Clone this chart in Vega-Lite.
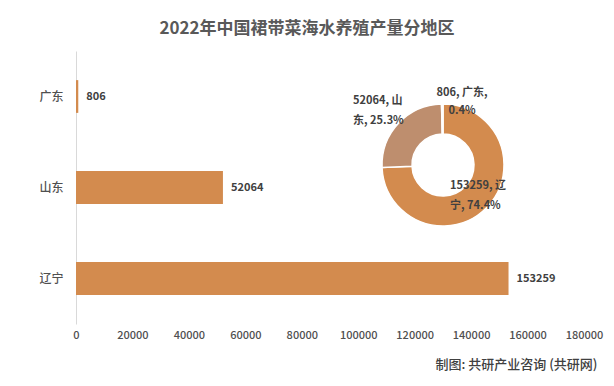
{
  "$schema": "https://vega.github.io/schema/vega-lite/v6.json",
  "width": 508,
  "height": 273,
  "autosize": {"type": "none"},
  "padding": {"left": 76, "top": 51, "right": 30, "bottom": 62},
  "background": "white",
  "config": {"font": "Noto Sans CJK SC", "view": {"stroke": null}},
  "title": {
    "text": "2022年中国裙带菜海水养殖产量分地区",
    "fontSize": 17,
    "fontWeight": "bold",
    "color": "#595959",
    "anchor": "middle",
    "dx": -23,
    "offset": 13
  },
  "data": {
    "values": [
      {"region": "辽宁", "value": 153259, "pieLabel": "153259, 辽\n宁, 74.4%"},
      {"region": "山东", "value": 52064, "pieLabel": "52064, 山\n东, 25.3%"},
      {"region": "广东", "value": 806, "pieLabel": "806, 广东,\n0.4%"}
    ]
  },
  "layer": [
    {
      "mark": {"type": "bar", "color": "#D38B4E"},
      "encoding": {
        "y": {
          "field": "region",
          "type": "nominal",
          "sort": ["广东", "山东", "辽宁"],
          "scale": {"paddingInner": 0.64, "paddingOuter": 0.32},
          "axis": {
            "title": null,
            "ticks": false,
            "grid": false,
            "labelFontSize": 12,
            "labelFontWeight": 500,
            "labelColor": "#505050",
            "labelPadding": 13,
            "domainColor": "#D9D9D9"
          }
        },
        "x": {
          "field": "value",
          "type": "quantitative",
          "scale": {"domain": [0, 180000], "nice": false},
          "axis": {
            "values": [0, 20000, 40000, 60000, 80000, 100000, 120000, 140000, 160000, 180000],
            "format": "d",
            "labelFontSize": 11,
            "labelFontWeight": 500,
            "labelColor": "#505050",
            "labelFlush": false,
            "labelPadding": 5,
            "ticks": false,
            "domain": false,
            "grid": false,
            "title": "制图: 共研产业咨询 (共研网)",
            "titleFontSize": 13,
            "titleFontWeight": 500,
            "titleColor": "#404040",
            "titleAnchor": "end",
            "titleAlign": "right",
            "titleX": 521,
            "titleY": 40,
            "titleBaseline": "middle"
          }
        }
      }
    },
    {
      "mark": {"type": "text", "align": "left", "baseline": "middle", "dx": 8, "fontSize": 11, "fontWeight": "bold", "color": "#404040"},
      "encoding": {
        "y": {"field": "region", "type": "nominal", "sort": ["广东", "山东", "辽宁"]},
        "x": {"field": "value", "type": "quantitative"},
        "text": {"field": "value", "type": "quantitative", "format": "d"}
      }
    },
    {
      "mark": {"type": "arc", "innerRadius": 31, "outerRadius": 61, "x": 367, "y": 114, "stroke": "white", "strokeWidth": 1.5},
      "encoding": {
        "theta": {"field": "value", "type": "quantitative", "stack": true},
        "color": {
          "field": "region",
          "type": "nominal",
          "scale": {"domain": ["辽宁", "山东", "广东"], "range": ["#D38B4E", "#BE8E6E", "#D9A77C"]},
          "legend": null
        },
        "order": {"field": "value", "sort": "descending"}
      }
    },
    {
      "transform": [{"filter": "datum.region === '山东'"}],
      "mark": {"type": "text", "x": 367, "y": 114, "dx": -90, "dy": -70, "align": "left", "baseline": "top", "lineBreak": "\n", "lineHeight": 20, "fontSize": 11, "fontWeight": "bold", "color": "#404040"},
      "encoding": {"text": {"field": "pieLabel"}}
    },
    {
      "transform": [{"filter": "datum.region === '广东'"}],
      "mark": {"type": "text", "x": 367, "y": 114, "dx": 19, "dy": -78, "align": "center", "baseline": "top", "lineBreak": "\n", "lineHeight": 18, "fontSize": 11, "fontWeight": "bold", "color": "#404040"},
      "encoding": {"text": {"field": "pieLabel"}}
    },
    {
      "transform": [{"filter": "datum.region === '辽宁'"}],
      "mark": {"type": "text", "x": 367, "y": 114, "dx": 7, "dy": 15, "align": "left", "baseline": "top", "lineBreak": "\n", "lineHeight": 20, "fontSize": 11, "fontWeight": "bold", "color": "#404040"},
      "encoding": {"text": {"field": "pieLabel"}}
    }
  ]
}
